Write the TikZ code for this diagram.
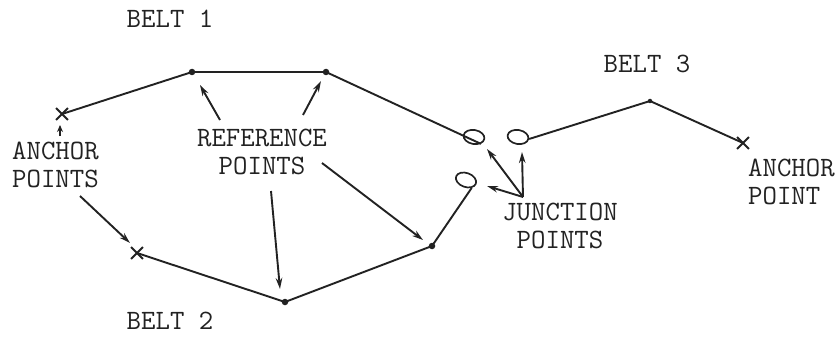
\documentclass[tikz,border=0pt]{standalone}
\usepackage{fontspec}
\usetikzlibrary{arrows.meta,shapes.misc,shapes.geometric}
\definecolor{ink}{HTML}{222222}
\begin{document}
\begin{tikzpicture}[x=1pt,y=-1pt,
  belt/.style={line width=1.9pt, draw=ink, line join=round},
  ptr/.style={line width=1.9pt, draw=ink, -{Stealth[length=11pt,width=6.5pt]}},
  lbl/.style={font=\fontsize{28}{28}\selectfont\ttfamily\addfontfeatures{FakeBold=0.8,FakeStretch=0.95}, text=ink, inner sep=0pt},
  refdot/.style={circle, fill=ink, inner sep=0pt, minimum size=6.5pt},
  anchormark/.style={cross out, draw=ink, line width=1.8pt, inner sep=0pt, minimum size=10pt},
  loopmark/.style={ellipse, draw=ink, line width=1.7pt, inner sep=0pt, minimum width=21pt, minimum height=14pt}]
\useasboundingbox (0,0) rectangle (839,337);
\fill[white] (0,0) rectangle (839,337);

% belt 1
\node[anchormark] (x1) at (62,114) {};
\node[refdot] (r1) at (192,72) {};
\node[refdot] (r2) at (326,72) {};
\node[loopmark, rotate=-10] (j1) at (474,137) {};
\draw[belt] (x1.center) -- (r1.center) -- (r2.center) -- (j1.south east);

% belt 3
\node[loopmark, rotate=-10] (j3) at (518,137) {};
\node[refdot, minimum size=4.5pt] (p3) at (650,101) {};
\node[anchormark] (x3) at (743,143) {};
\draw[belt] (j3.east) -- (p3.center) -- (x3.center);

% belt 2
\node[anchormark] (x2) at (137,253) {};
\node[refdot] (r3) at (285,302) {};
\node[refdot] (r4) at (432,246) {};
\node[loopmark, rotate=-20] (j2) at (466,180) {};
\draw[belt] (x2.center) -- (r3.center) -- (r4.center) -- (j2.south east);

% labels
\node[lbl] (b1) at (170,19) {BELT 1};
\node[lbl] (b3) at (647,64) {BELT 3};
\node[lbl] (b2) at (170,321) {BELT 2};
\node[lbl, align=left, anchor=west] (ap) at (12,165) {ANCHOR\\POINTS};
\node[lbl, align=center] (rp) at (262,152) {REFERENCE\\POINTS};
\node[lbl, align=center] (jp) at (560,226) {JUNCTION\\POINTS};
\node[lbl, align=left, anchor=west] (ap3) at (748,182) {ANCHOR\\POINT};

% pointer arrows
\coordinate (ta1) at (60,136);
\coordinate (ha1) at (60,125);
\draw[ptr, -{Stealth[length=7pt,width=6pt]}] (ta1) -- (ha1);
\coordinate (ta2) at (80,196);
\coordinate (ha2) at (130,243);
\draw[ptr] (ta2) -- (ha2);

\coordinate (tr1) at (220,120);
\coordinate (hr1) at (200,85);
\draw[ptr] (tr1) -- (hr1);
\coordinate (tr2) at (303,115);
\coordinate (hr2) at (321,81);
\draw[ptr] (tr2) -- (hr2);
\coordinate (tr3) at (271,191);
\coordinate (hr3) at (280,289);
\draw[ptr] (tr3) -- (hr3);
\coordinate (tr4) at (322,163);
\coordinate (hr4) at (423,240);
\draw[ptr] (tr4) -- (hr4);

\coordinate (tj) at (523,197);
\coordinate (hj1) at (487,149);
\coordinate (hj2) at (522,152);
\coordinate (hj3) at (487,186);
\draw[ptr] (tj) -- (hj1);
\draw[ptr] (tj) -- (hj2);
\draw[ptr] (tj) -- (hj3);
\end{tikzpicture}
\end{document}
